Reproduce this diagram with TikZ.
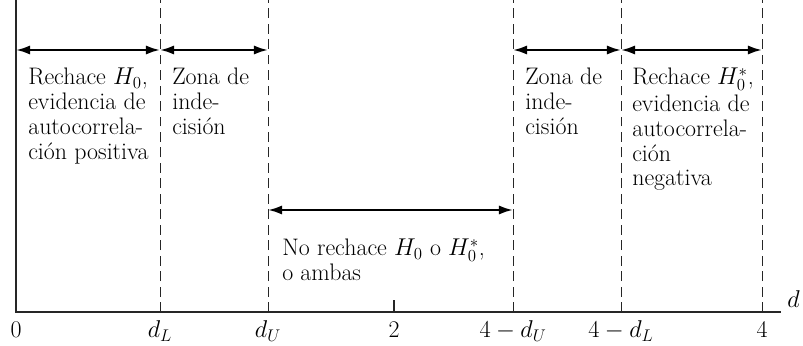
\documentclass[tikz,border=0pt]{standalone}
\usetikzlibrary{arrows.meta}
\begin{document}
\begin{tikzpicture}[
                x=0.025cm, y=0.025cm,
                dwAxis/.style={draw=black!85,line width=0.9pt},
                dwBound/.style={draw=black!85,line width=0.6pt,dash pattern=on 7pt off 4pt},
                dwRange/.style={draw=black,line width=1.6pt,
                                {Latex[length=10pt,width=6.5pt]}-{Latex[length=10pt,width=6.5pt]}},
                dwText/.style={anchor=north west,align=left,inner sep=0pt,
                               font=\fontsize{17}{17.6}\selectfont},
                dwLabel/.style={anchor=base,inner sep=0pt,font=\fontsize{17}{19}\selectfont}]
                \useasboundingbox (0,0) rectangle (803,346);
                % Boundaries of the regions on the d axis.
                \coordinate (top) at (0,346);
                \coordinate (b0) at (16,34);
                \coordinate (bL) at (160,34);
                \coordinate (bU) at (268,34);
                \coordinate (bT) at (394,34);
                \coordinate (cU) at (513,34);
                \coordinate (cL) at (621,34);
                \coordinate (b4) at (762,34);
                \coordinate (bEnd) at (781,34);
                \draw[dwAxis] (b0 |- top)--(b0)--(bEnd);
                \draw[dwAxis] (bT)--++(0,12);
                \foreach \b in {bL,bU,cU,cL,b4}
                  \draw[dwBound] (\b)--(\b |- top);


                % Ranges of each decision.
                \coordinate (rowA) at (0,296);
                \coordinate (rowB) at (0,136);
                \draw[dwRange] (b0 |- rowA)--(bL |- rowA);
                \draw[dwRange] (bL |- rowA)--(bU |- rowA);
                \draw[dwRange] (cU |- rowA)--(cL |- rowA);
                \draw[dwRange] (cL |- rowA)--(b4 |- rowA);
                \draw[dwRange] (bU |- rowB)--(cU |- rowB);


                % Texts of the regions.
                \node[dwText] (rejPos) at (28,278) {Rechace $H_0$,\\evidencia de\\autocorrela-\\ción positiva};
                \node[dwText] (indL) at (172,278) {Zona de\\inde-\\cisión};
                \node[dwText] (noRej) at (282,107) {No rechace $H_0$ o $H_0^{\smash{*}}$,\\o ambas};
                \node[dwText] (indU) at (525,278) {Zona de\\inde-\\cisión};
                \node[dwText] (rejNeg) at (632,278) {Rechace $H_0^{\smash{*}}$,\\[1.5pt]evidencia de\\autocorrela-\\ción\\negativa};


                % Axis labels.
                \node[dwLabel] (l0) at (b0 |- 0,8) {0};
                \node[dwLabel] (lL) at (bL |- 0,8) {$d_L$};
                \node[dwLabel] (lU) at (bU |- 0,8) {$d_U$};
                \node[dwLabel] (lT) at (bT |- 0,8) {2};
                \node[dwLabel] (lcU) at (cU |- 0,8) {$4-d_U$};
                \node[dwLabel] (lcL) at (cL |- 0,8) {$4-d_L$};
                \node[dwLabel] (l4) at (b4 |- 0,8) {4};
                \node[dwLabel,anchor=base west] (ld) at (787,38) {$d$};

            \end{tikzpicture}
\end{document}
